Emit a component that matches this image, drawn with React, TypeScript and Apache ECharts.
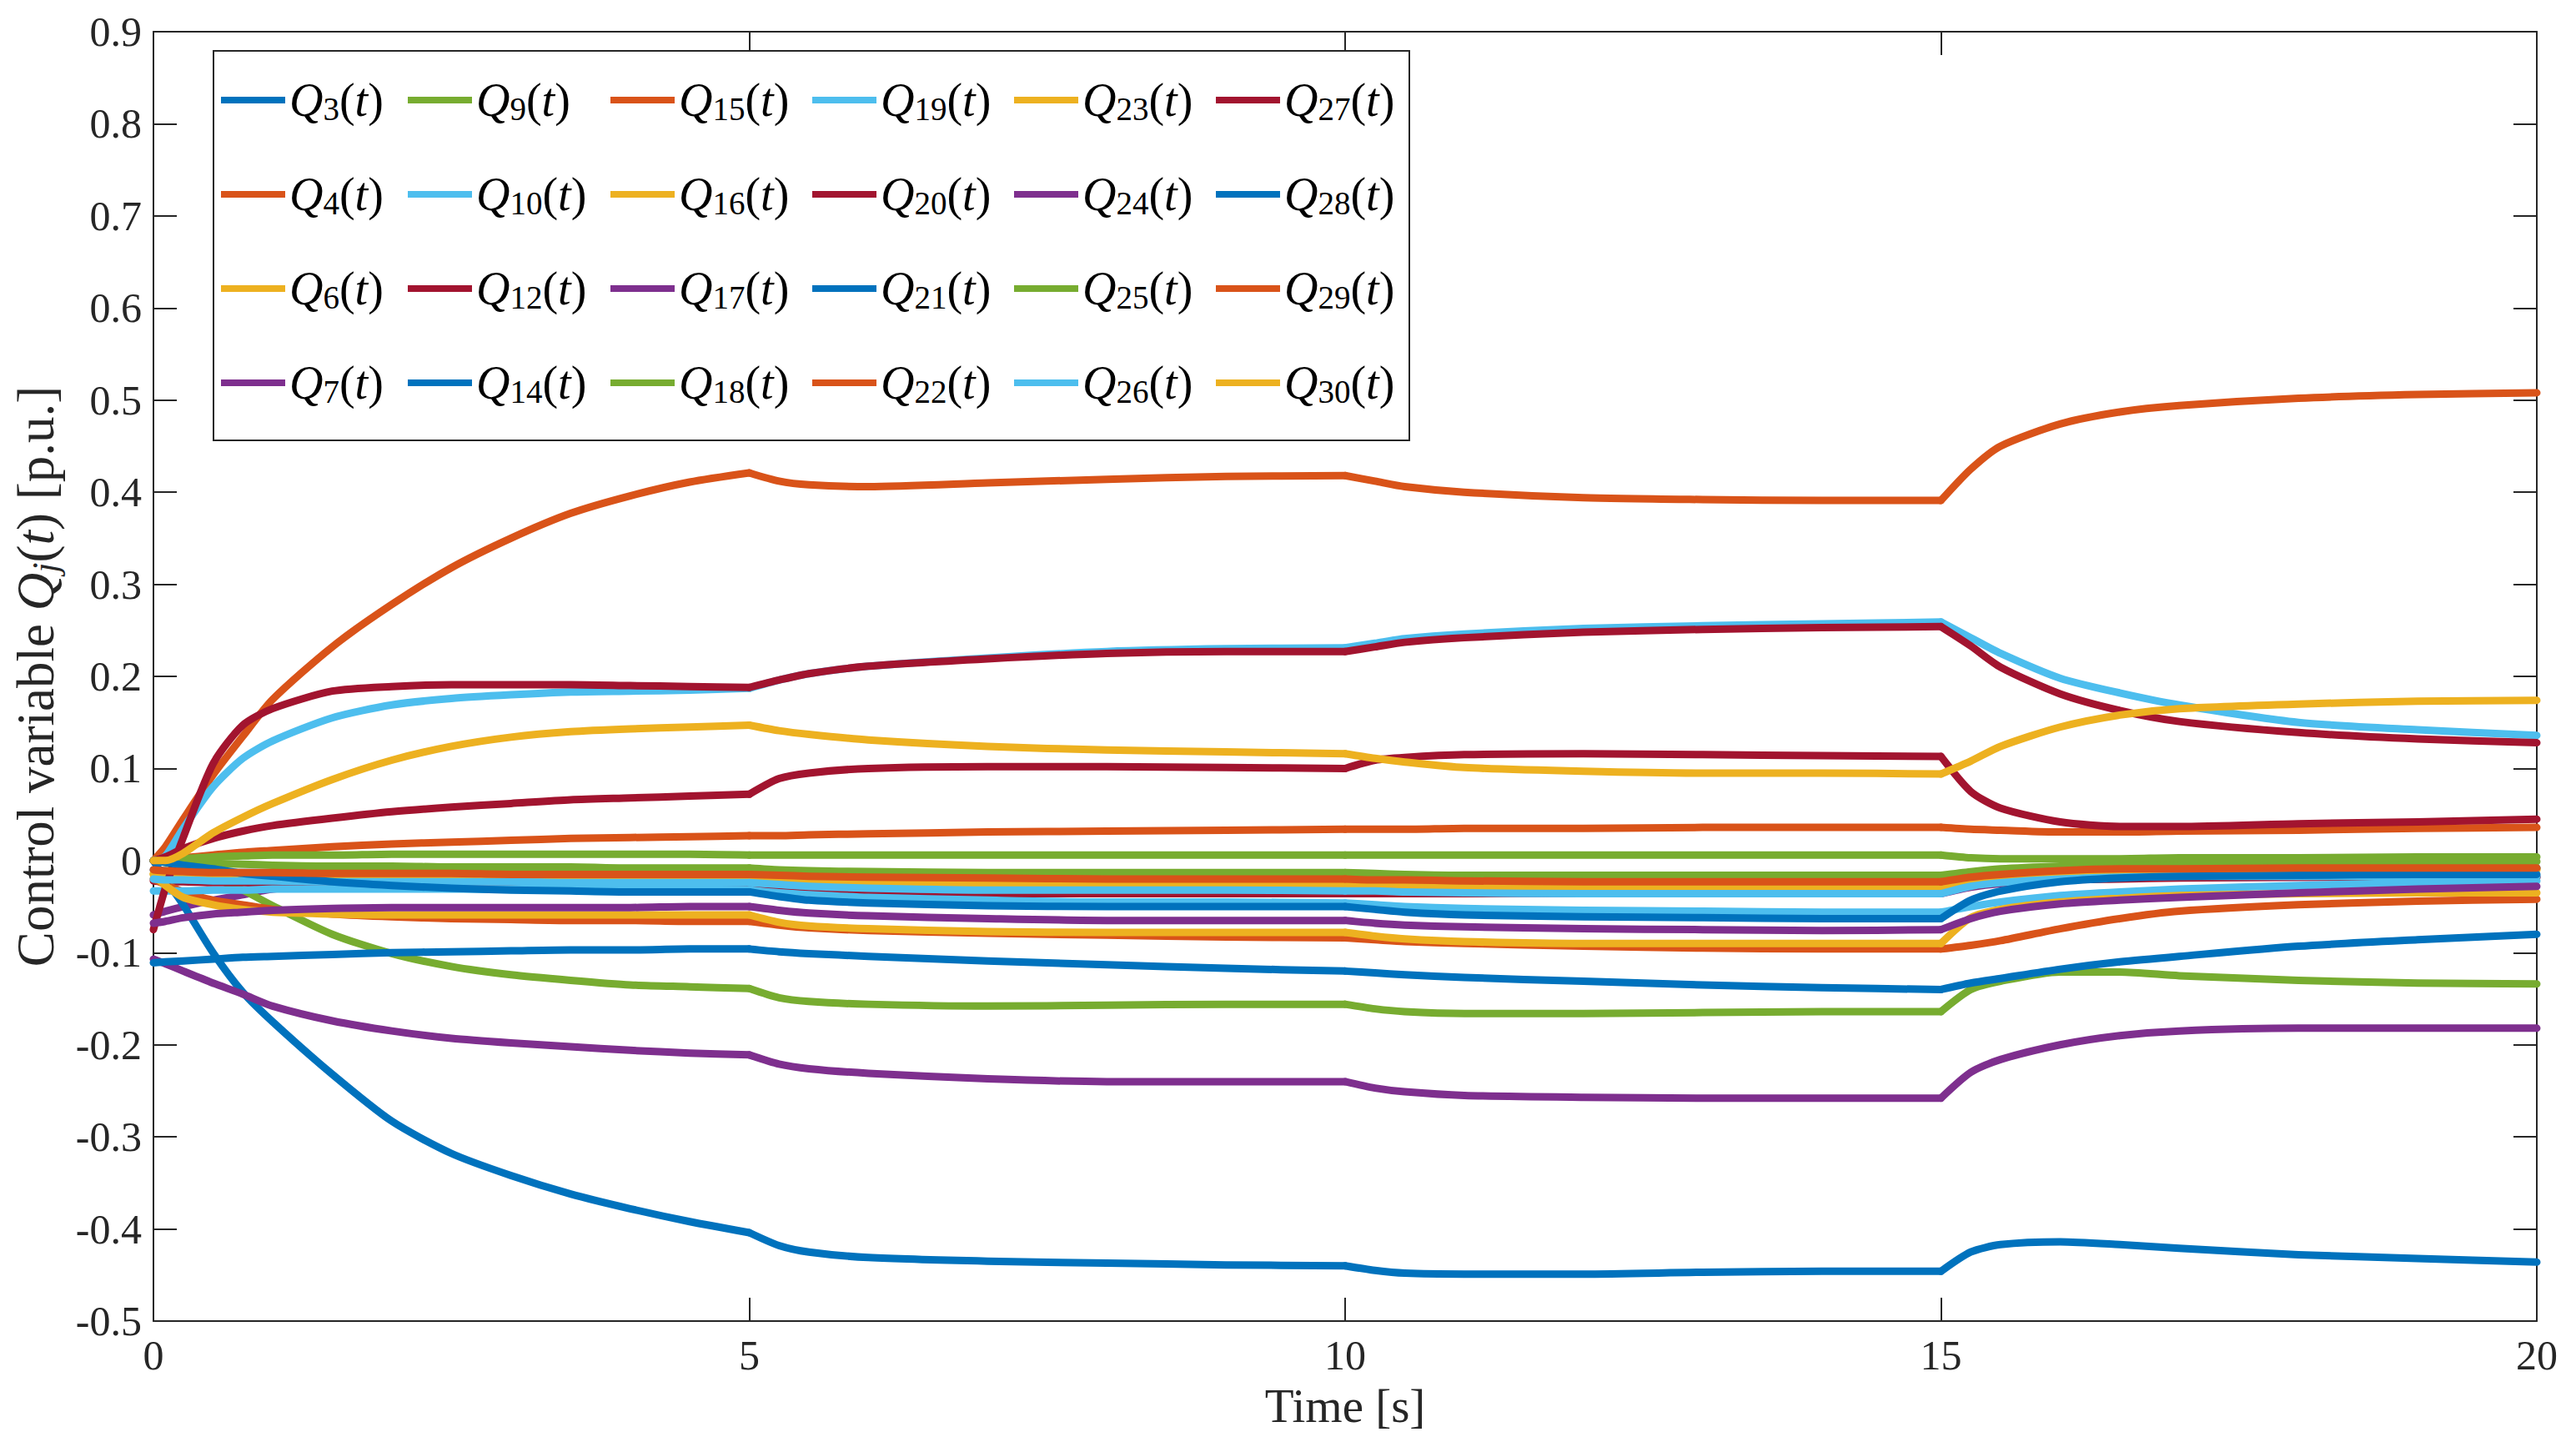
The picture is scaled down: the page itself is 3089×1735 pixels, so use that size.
import React, { useEffect, useRef } from 'react';
import * as echarts from 'echarts';

// time samples [s]
const T = [0, 0.1, 0.25, 0.5, 0.75, 1, 1.5, 2, 2.5, 3, 3.5, 4, 4.5, 5, 5.25, 5.5, 6, 7, 8, 9, 10, 10.25, 10.5, 11, 12, 13, 14, 15, 15.25, 15.5, 16, 16.5, 17, 18, 19, 20];
// switching instants that split the response into phases
const PHASES = [[0, 5], [5, 10], [10, 15], [15, 20]];

const Q3 = [-0.01, -0.011, -0.012, -0.013, -0.013, -0.013, -0.014, -0.014, -0.014, -0.015, -0.015, -0.015, -0.015, -0.015, -0.016, -0.017, -0.018, -0.019, -0.02, -0.02, -0.02, -0.021, -0.021, -0.022, -0.023, -0.023, -0.023, -0.023, -0.018, -0.015, -0.011, -0.009, -0.009, -0.008, -0.008, -0.008];
const Q4 = [0, 0.015, 0.045, 0.093, 0.135, 0.175, 0.232, 0.278, 0.318, 0.35, 0.377, 0.396, 0.411, 0.421, 0.412, 0.408, 0.406, 0.41, 0.414, 0.417, 0.418, 0.412, 0.406, 0.4, 0.394, 0.392, 0.391, 0.391, 0.425, 0.45, 0.474, 0.487, 0.494, 0.502, 0.506, 0.508];
const Q6 = [-0.014, -0.016, -0.017, -0.018, -0.019, -0.019, -0.019, -0.019, -0.02, -0.02, -0.02, -0.02, -0.02, -0.02, -0.021, -0.022, -0.023, -0.024, -0.024, -0.025, -0.025, -0.026, -0.026, -0.027, -0.028, -0.028, -0.028, -0.028, -0.021, -0.017, -0.013, -0.011, -0.01, -0.009, -0.009, -0.009];
const Q7 = [-0.059, -0.055, -0.05, -0.043, -0.037, -0.031, -0.025, -0.023, -0.023, -0.023, -0.024, -0.024, -0.024, -0.024, -0.026, -0.028, -0.03, -0.032, -0.032, -0.032, -0.033, -0.033, -0.034, -0.035, -0.036, -0.036, -0.036, -0.036, -0.029, -0.025, -0.021, -0.019, -0.018, -0.018, -0.018, -0.018];
const Q9 = [0, -0.002, -0.008, -0.019, -0.032, -0.049, -0.08, -0.101, -0.115, -0.124, -0.13, -0.135, -0.137, -0.139, -0.149, -0.153, -0.156, -0.158, -0.157, -0.156, -0.156, -0.161, -0.164, -0.166, -0.166, -0.165, -0.164, -0.164, -0.14, -0.131, -0.121, -0.121, -0.125, -0.13, -0.133, -0.134];
const Q10 = [0, 0.005, 0.035, 0.08, 0.111, 0.13, 0.155, 0.169, 0.176, 0.18, 0.183, 0.184, 0.185, 0.187, 0.196, 0.203, 0.211, 0.22, 0.227, 0.23, 0.231, 0.236, 0.241, 0.246, 0.252, 0.255, 0.257, 0.259, 0.242, 0.225, 0.198, 0.182, 0.169, 0.15, 0.142, 0.136];
const Q12 = [-0.022, -0.023, -0.023, -0.024, -0.024, -0.025, -0.025, -0.026, -0.026, -0.027, -0.027, -0.028, -0.028, -0.029, -0.031, -0.032, -0.034, -0.036, -0.036, -0.036, -0.036, -0.036, -0.036, -0.036, -0.035, -0.035, -0.035, -0.035, -0.028, -0.024, -0.021, -0.02, -0.019, -0.018, -0.018, -0.018];
const Q14 = [0, -0.02, -0.048, -0.1, -0.143, -0.175, -0.232, -0.283, -0.318, -0.342, -0.362, -0.378, -0.392, -0.404, -0.418, -0.425, -0.431, -0.435, -0.437, -0.439, -0.44, -0.445, -0.448, -0.449, -0.449, -0.447, -0.446, -0.446, -0.425, -0.417, -0.414, -0.417, -0.421, -0.428, -0.432, -0.436];
const Q15 = [-0.02, -0.026, -0.034, -0.043, -0.048, -0.053, -0.058, -0.061, -0.063, -0.064, -0.065, -0.065, -0.066, -0.066, -0.07, -0.073, -0.076, -0.079, -0.081, -0.083, -0.084, -0.086, -0.088, -0.09, -0.093, -0.095, -0.096, -0.096, -0.092, -0.087, -0.074, -0.063, -0.055, -0.048, -0.044, -0.042];
const Q16 = [-0.015, -0.017, -0.018, -0.019, -0.02, -0.02, -0.02, -0.02, -0.021, -0.021, -0.021, -0.021, -0.021, -0.021, -0.022, -0.023, -0.024, -0.025, -0.025, -0.026, -0.026, -0.027, -0.027, -0.028, -0.029, -0.029, -0.029, -0.029, -0.022, -0.018, -0.014, -0.012, -0.011, -0.01, -0.01, -0.01];
const Q17 = [-0.107, -0.112, -0.12, -0.133, -0.145, -0.158, -0.174, -0.185, -0.193, -0.198, -0.202, -0.206, -0.209, -0.211, -0.221, -0.226, -0.231, -0.237, -0.24, -0.24, -0.24, -0.247, -0.251, -0.255, -0.257, -0.258, -0.258, -0.258, -0.23, -0.216, -0.2, -0.19, -0.185, -0.182, -0.182, -0.182];
const Q18 = [0, -0.001, -0.002, -0.003, -0.004, -0.005, -0.006, -0.006, -0.007, -0.007, -0.007, -0.008, -0.008, -0.008, -0.01, -0.011, -0.012, -0.013, -0.013, -0.013, -0.013, -0.014, -0.015, -0.016, -0.016, -0.016, -0.016, -0.016, -0.012, -0.009, -0.006, -0.004, -0.003, -0.002, -0.001, -0.001];
const Q19 = [-0.033, -0.033, -0.033, -0.032, -0.032, -0.031, -0.031, -0.031, -0.031, -0.031, -0.031, -0.031, -0.031, -0.032, -0.035, -0.037, -0.04, -0.043, -0.045, -0.045, -0.046, -0.048, -0.05, -0.052, -0.054, -0.055, -0.056, -0.056, -0.05, -0.045, -0.038, -0.034, -0.031, -0.027, -0.024, -0.022];
const Q20 = [-0.075, -0.03, 0.025, 0.105, 0.147, 0.165, 0.184, 0.189, 0.191, 0.191, 0.191, 0.19, 0.189, 0.188, 0.196, 0.203, 0.211, 0.219, 0.225, 0.227, 0.227, 0.232, 0.237, 0.242, 0.248, 0.251, 0.253, 0.254, 0.233, 0.21, 0.181, 0.163, 0.151, 0.139, 0.132, 0.128];
const Q21 = [-0.111, -0.11, -0.109, -0.107, -0.105, -0.104, -0.102, -0.1, -0.099, -0.098, -0.097, -0.097, -0.096, -0.096, -0.099, -0.101, -0.104, -0.109, -0.113, -0.117, -0.12, -0.122, -0.124, -0.127, -0.131, -0.135, -0.138, -0.14, -0.133, -0.128, -0.118, -0.11, -0.104, -0.093, -0.086, -0.08];
const Q22 = [0, 0.001, 0.003, 0.006, 0.009, 0.011, 0.015, 0.018, 0.02, 0.022, 0.024, 0.025, 0.026, 0.027, 0.027, 0.028, 0.029, 0.031, 0.032, 0.033, 0.034, 0.034, 0.034, 0.035, 0.035, 0.036, 0.036, 0.036, 0.034, 0.033, 0.031, 0.031, 0.032, 0.033, 0.035, 0.036];
const Q23 = [-0.015, -0.027, -0.04, -0.048, -0.053, -0.056, -0.058, -0.059, -0.059, -0.059, -0.059, -0.059, -0.059, -0.059, -0.067, -0.071, -0.074, -0.077, -0.078, -0.078, -0.078, -0.082, -0.085, -0.088, -0.09, -0.09, -0.09, -0.09, -0.062, -0.053, -0.045, -0.041, -0.038, -0.036, -0.035, -0.035];
const Q24 = [-0.068, -0.066, -0.062, -0.058, -0.056, -0.054, -0.052, -0.051, -0.051, -0.051, -0.051, -0.051, -0.05, -0.05, -0.054, -0.057, -0.06, -0.063, -0.065, -0.065, -0.065, -0.068, -0.07, -0.072, -0.074, -0.075, -0.076, -0.075, -0.063, -0.055, -0.047, -0.043, -0.04, -0.035, -0.031, -0.028];
const Q25 = [0, 0.001, 0.002, 0.004, 0.005, 0.006, 0.006, 0.007, 0.007, 0.007, 0.007, 0.007, 0.007, 0.006, 0.006, 0.006, 0.006, 0.006, 0.006, 0.006, 0.006, 0.006, 0.006, 0.006, 0.006, 0.006, 0.006, 0.006, 0.003, 0.002, 0.002, 0.002, 0.003, 0.003, 0.004, 0.004];
const Q26 = [-0.02, -0.021, -0.021, -0.022, -0.022, -0.022, -0.023, -0.023, -0.023, -0.023, -0.024, -0.024, -0.024, -0.024, -0.026, -0.028, -0.03, -0.032, -0.032, -0.032, -0.033, -0.033, -0.034, -0.035, -0.036, -0.036, -0.036, -0.036, -0.028, -0.024, -0.02, -0.018, -0.017, -0.017, -0.017, -0.017];
const Q27 = [0, 0.004, 0.013, 0.024, 0.032, 0.038, 0.046, 0.053, 0.058, 0.062, 0.066, 0.068, 0.07, 0.072, 0.089, 0.095, 0.1, 0.102, 0.102, 0.101, 0.1, 0.109, 0.112, 0.115, 0.116, 0.115, 0.114, 0.113, 0.075, 0.057, 0.042, 0.037, 0.037, 0.04, 0.042, 0.045];
const Q28 = [0, -0.002, -0.005, -0.009, -0.014, -0.017, -0.023, -0.027, -0.03, -0.032, -0.033, -0.034, -0.034, -0.034, -0.039, -0.043, -0.046, -0.049, -0.05, -0.05, -0.05, -0.053, -0.056, -0.059, -0.061, -0.062, -0.063, -0.063, -0.043, -0.033, -0.023, -0.019, -0.017, -0.016, -0.015, -0.015];
const Q29 = [-0.01, -0.011, -0.012, -0.013, -0.013, -0.013, -0.014, -0.014, -0.014, -0.015, -0.015, -0.015, -0.015, -0.015, -0.016, -0.017, -0.018, -0.019, -0.02, -0.02, -0.02, -0.021, -0.021, -0.022, -0.023, -0.023, -0.023, -0.023, -0.018, -0.015, -0.011, -0.009, -0.009, -0.008, -0.008, -0.008];
const Q30 = [0, 0, 0.008, 0.03, 0.047, 0.062, 0.088, 0.109, 0.124, 0.134, 0.14, 0.143, 0.145, 0.147, 0.141, 0.137, 0.131, 0.124, 0.12, 0.118, 0.116, 0.111, 0.107, 0.101, 0.097, 0.095, 0.095, 0.094, 0.108, 0.124, 0.145, 0.158, 0.165, 0.17, 0.173, 0.174];

const SERIES: { name: string; data: number[] }[] = [
  { name: 'Q3', data: Q3 }, { name: 'Q4', data: Q4 }, { name: 'Q6', data: Q6 }, { name: 'Q7', data: Q7 },
  { name: 'Q9', data: Q9 }, { name: 'Q10', data: Q10 }, { name: 'Q12', data: Q12 }, { name: 'Q14', data: Q14 },
  { name: 'Q15', data: Q15 }, { name: 'Q16', data: Q16 }, { name: 'Q17', data: Q17 }, { name: 'Q18', data: Q18 },
  { name: 'Q19', data: Q19 }, { name: 'Q20', data: Q20 }, { name: 'Q21', data: Q21 }, { name: 'Q22', data: Q22 },
  { name: 'Q23', data: Q23 }, { name: 'Q24', data: Q24 }, { name: 'Q25', data: Q25 }, { name: 'Q26', data: Q26 },
  { name: 'Q27', data: Q27 }, { name: 'Q28', data: Q28 }, { name: 'Q29', data: Q29 }, { name: 'Q30', data: Q30 },
];

const COLORS = ['#0072BD', '#D95319', '#EDB120', '#7E2F8E', '#77AC30', '#4DBEEE', '#A2142F'];

const LEGEND_COLUMNS = [
  ['Q3', 'Q4', 'Q6', 'Q7'],
  ['Q9', 'Q10', 'Q12', 'Q14'],
  ['Q15', 'Q16', 'Q17', 'Q18'],
  ['Q19', 'Q20', 'Q21', 'Q22'],
  ['Q23', 'Q24', 'Q25', 'Q26'],
  ['Q27', 'Q28', 'Q29', 'Q30'],
];
const LEGEND_X = [265, 489, 732, 974, 1216, 1458];

const X_MIN = 0, X_MAX = 20, X_STEP = 5;
const Y_MIN = -0.5, Y_MAX = 0.9, Y_STEP = 0.1;

const FONT = 'Liberation Serif';
const AX = '#262626';

function mathRich(size: number, lh: number, color: string) {
  const sub = Math.round(size * 0.7);
  return {
    n: { fontFamily: FONT, fontSize: size, lineHeight: lh, color },
    q: { fontFamily: FONT, fontSize: size, fontStyle: 'italic', lineHeight: lh, color },
    s: { fontFamily: FONT, fontSize: sub, lineHeight: sub, verticalAlign: 'bottom', color },
    si: { fontFamily: FONT, fontSize: sub, fontStyle: 'italic', lineHeight: sub, verticalAlign: 'bottom', color },
    p: { fontFamily: FONT, fontSize: size, lineHeight: lh, color },
    i: { fontFamily: FONT, fontSize: size, fontStyle: 'italic', lineHeight: lh, color },
  };
}

export default function App() {
  const ref = useRef<HTMLDivElement>(null);
  useEffect(() => {
    document.body.style.margin = '0';
    const chart = echarts.init(ref.current!, null, { renderer: 'svg' });

    const axisCommon = {
      axisLine: { show: true, onZero: false, lineStyle: { color: AX, width: 2 } },
      axisTick: { show: true, inside: true, length: 28, lineStyle: { color: AX, width: 2 } },
      splitLine: { show: false },
    };

    const series: any[] = [];
    SERIES.forEach((s, i) => {
      const color = COLORS[i % COLORS.length];
      PHASES.forEach(([a, b]) => {
        const pts: number[][] = [];
        T.forEach((t, k) => { if (t >= a && t <= b) pts.push([t, s.data[k]]); });
        series.push({
          type: 'line',
          name: s.name,
          xAxisIndex: 0,
          yAxisIndex: 0,
          data: pts,
          showSymbol: false,
          symbol: 'none',
          smooth: 0.25,
          silent: true,
          color,
          lineStyle: { width: 9, color, join: 'round', cap: 'round' },
          itemStyle: { color },
          emphasis: { disabled: true },
          z: 2,
        });
      });
    });

    const option: any = {
      animation: false,
      backgroundColor: '#ffffff',
      textStyle: { fontFamily: FONT },
      grid: { left: 184, top: 38, width: 2858, height: 1546, containLabel: false },
      xAxis: [
        {
          type: 'value', min: X_MIN, max: X_MAX, interval: X_STEP, position: 'bottom',
          ...axisCommon,
          axisLabel: { show: true, fontFamily: FONT, fontSize: 50, color: AX, margin: 16 },
          name: 'Time [s]', nameLocation: 'middle', nameGap: 70,
          nameTextStyle: { fontFamily: FONT, fontSize: 57, color: AX, lineHeight: 62 },
        },
        {
          type: 'value', min: X_MIN, max: X_MAX, interval: X_STEP, position: 'top',
          ...axisCommon, axisLabel: { show: false },
        },
      ],
      yAxis: [
        {
          type: 'value', min: Y_MIN, max: Y_MAX, interval: Y_STEP, position: 'left',
          ...axisCommon,
          axisLabel: {
            show: true, fontFamily: FONT, fontSize: 50, color: AX, margin: 14,
            formatter: (v: number) => { const r = Math.round(v * 10) / 10; return r === 0 ? '0' : String(r); },
          },
          name: '{n|Control variable }{q|Q}{si|j}{p|(}{i|t}{p|) [p.u.]}',
          nameLocation: 'middle', nameGap: 108, nameRotate: 90,
          nameTextStyle: { fontFamily: FONT, fontSize: 63, color: AX, rich: mathRich(63, 66, AX) },
        },
        {
          type: 'value', min: Y_MIN, max: Y_MAX, interval: Y_STEP, position: 'right',
          ...axisCommon, axisLabel: { show: false },
        },
      ],
      legend: LEGEND_COLUMNS.map((col, i) => ({
        data: col,
        orient: 'vertical',
        left: LEGEND_X[i],
        top: 92,
        itemGap: 55,
        itemWidth: 77,
        itemHeight: 8,
        icon: 'rect',
        padding: 0,
        selectedMode: false,
        formatter: (name: string) => `{q|Q}{s|${name.slice(1)}}{p|(}{i|t}{p|)}`,
        textStyle: { fontFamily: FONT, fontSize: 56, color: '#000', rich: mathRich(56, 60, '#000') },
      })),
      graphic: [
        {
          type: 'rect', z: 3, silent: true,
          shape: { x: 256, y: 61, width: 1434, height: 467 },
          style: { fill: '#ffffff', stroke: AX, lineWidth: 2 },
        },
      ],
      series,
    };

    chart.setOption(option);
    return () => chart.dispose();
  }, []);

  return (
    <div
      ref={ref}
      style={{ position: 'absolute', left: 0, top: 0, width: 3089, height: 1735, background: '#fff' }}
    />
  );
}
